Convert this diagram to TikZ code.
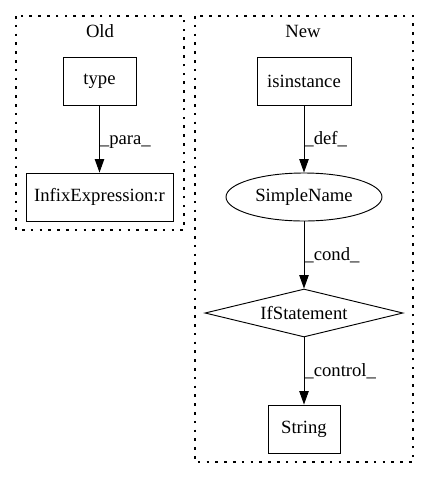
\documentclass[tikz,border=0pt]{standalone}
\usepackage{fontspec}
\setmainfont{Liberation Serif}
\usetikzlibrary{shapes.geometric,arrows.meta}
\begin{document}
\begin{tikzpicture}[x=0.75pt,y=-0.75pt,
  every node/.style={font=\fontsize{14}{16}\selectfont},
  box/.style={draw,line width=0.7pt,inner sep=0pt},
  clus/.style={draw,line width=0.9pt,dash pattern=on 2pt off 4.6pt},
  edge/.style={draw,line width=0.7pt,-{Triangle[length=10pt,width=7pt]}},
  lab/.style={anchor=west,inner sep=0pt}]
\useasboundingbox (0,0) rectangle (429,480);
% clusters
\draw[clus] (16,16) rectangle (184,230);
\draw[clus] (195,16) rectangle (413,462);
\node (oldlab) at (100,31) {Old};
\node (newlab) at (303,31) {New};
% Old
\node[box,minimum width=73*0.75pt,minimum height=48*0.75pt] (type) at (99.5,81) {type};
\node[box,minimum width=147*0.75pt,minimum height=48*0.75pt] (infix) at (99.5,197) {InfixExpression:r};
\draw[edge] (type) -- (infix) node[lab,pos=0.54] {\_para\_};
% New
\node[box,minimum width=94*0.75pt,minimum height=48*0.75pt] (isinst) at (304,81) {isinstance};
\node[box,ellipse,minimum width=156*0.75pt,minimum height=48*0.75pt] (sn) at (304,197) {SimpleName};
\node[box,diamond,aspect=4.1,minimum width=198*0.75pt,minimum height=48*0.75pt] (ifs) at (304,313) {IfStatement};
\node[box,minimum width=72*0.75pt,minimum height=48*0.75pt] (str) at (304,429) {String};
\draw[edge] (isinst) -- (sn) node[lab,pos=0.5] {\_def\_};
\draw[edge] (sn) -- (ifs) node[lab,pos=0.5] {\_cond\_};
\draw[edge] (ifs) -- (str) node[lab,pos=0.5] {\_control\_};
\end{tikzpicture}
\end{document}
